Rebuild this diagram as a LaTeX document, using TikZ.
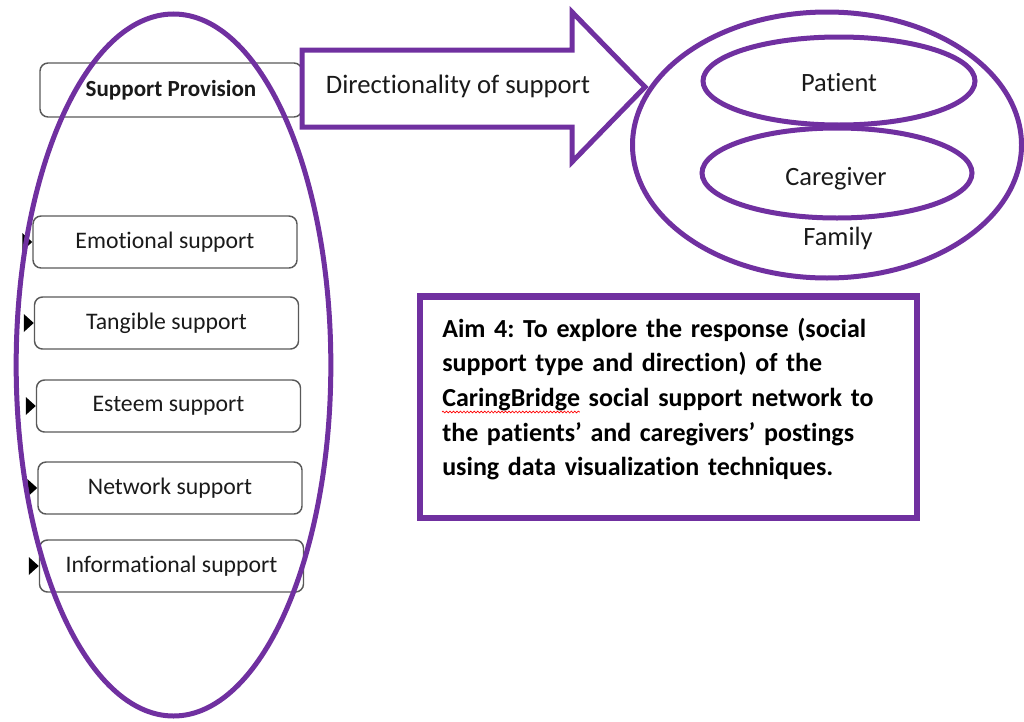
\documentclass[tikz,border=0pt]{standalone}
\usepackage{fontspec}
\setmainfont{Carlito}[Ligatures=NoCommon]
\usetikzlibrary{shapes.geometric,decorations.pathmorphing}
\definecolor{aimpurple}{HTML}{7030A0}
\definecolor{boxgray}{HTML}{595959}
\definecolor{inkdark}{HTML}{1A1A1A}
\newcommand\aimfont{\fontsize{19.5}{26}\selectfont\bfseries}
\newlength\cbwidth
\begin{document}
\settowidth{\cbwidth}{\aimfont CaringBridge}%
\begin{tikzpicture}[x=0.75pt,y=-0.75pt,
  supbox/.style={draw=boxgray, line width=1.1pt, rounded corners=6pt,
    minimum width=198pt, minimum height=39pt, inner sep=0pt,
    text=inkdark, font=\fontsize{17.8}{21}\selectfont},
  ring/.style={draw=aimpurple, line width=3.75pt, ellipse, inner sep=0pt},
  label/.style={text=inkdark, inner sep=0pt, anchor=base, font=\fontsize{19.8}{24}\selectfont},
  tip/.style={fill=black},
  spellwave/.style={draw=red, line width=0.5pt, decorate,
    decoration={snake, amplitude=0.7pt, segment length=2.6pt}}]
\useasboundingbox (0,0) rectangle (1024,721);

% support type boxes
\node[supbox, minimum width=196.5pt, minimum height=40.5pt,
      font=\fontsize{17.3}{21}\selectfont\bfseries] (prov) at (171,90) {Support Provision};
\node[supbox] (emo) at (165,242) {Emotional support};
\node[supbox] (tan) at (166.5,323) {Tangible support};
\node[supbox] (est) at (168.5,406) {Esteem support};
\node[supbox] (net) at (170,488) {Network support};
\node[supbox] (inf) at (171.5,566) {Informational support};

% small pointers on the left of each box
\foreach \b in {emo,tan,est,net,inf}
  \fill[tip, shift={(\b.west)}] (-10,-9) -- (0,0) -- (-10,9) -- cycle;

% ellipse grouping the support types
\node[ring, minimum width=236pt, minimum height=526.5pt] (grp) at (173.5,365) {};

% block arrow for direction of support
\draw[aimpurple, line width=3.75pt, line join=miter]
  (302,50) -- (572,50) -- (572,12) -- (645,87) -- (572,162) -- (572,127) -- (302,127) -- cycle;
\node[label, font=\fontsize{20}{24}\selectfont] (dir) at (458,93) {Directionality of support};

% family with patient and caregiver
\node[ring, minimum width=291.75pt, minimum height=199.5pt] (fam) at (827,145) {};
\node[ring, minimum width=204pt, minimum height=66pt] (pat) at (839,81) {};
\node[ring, minimum width=202.5pt, minimum height=67.5pt] (care) at (837,173) {};
\node[label] (pattxt) at (839,91) {Patient};
\node[label] (caretxt) at (836,185) {Caregiver};
\node[label] (famtxt) at (838,245) {Family};

% aim statement
\draw[aimpurple, line width=5pt] (420,296.5) rectangle (917,518);
\node[anchor=base west, inner sep=0pt, text width=360pt, align=left,
      font=\aimfont\frenchspacing, text=black] (aim) at (442,337)
  {Aim 4: To explore the response (social\\
   support type and direction) of the\\
   CaringBridge social support network to\\
   the patients’ and caregivers’ postings\\
   using data visualization techniques.};
% wavy underline below the product name on the third line
\coordinate (cbstart) at (442,412);
\draw[spellwave] (cbstart) -- ++(\cbwidth,0);
\end{tikzpicture}
\end{document}
